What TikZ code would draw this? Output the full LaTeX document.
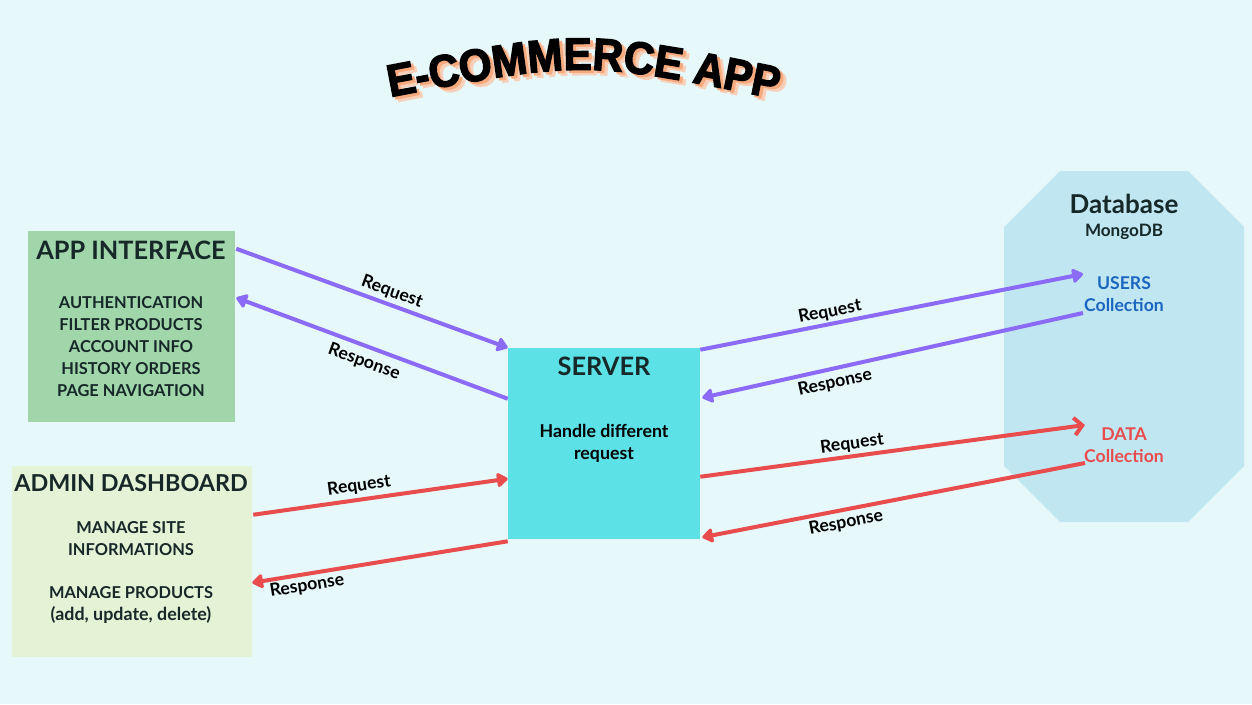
\documentclass[tikz,border=0pt]{standalone}
\usepackage{fontspec}
\setmainfont{Lato}
\newfontfamily\titlefont[FakeStretch=0.93,FakeBold=3]{Liberation Sans}
\usetikzlibrary{arrows.meta,calc,decorations.text}
\definecolor{bg}{RGB}{230,248,250}
\definecolor{appgreen}{RGB}{161,214,170}
\definecolor{admingreen}{RGB}{228,242,214}
\definecolor{servercyan}{RGB}{92,225,230}
\definecolor{dbblue}{RGB}{192,230,242}
\definecolor{purp}{RGB}{139,106,245}
\definecolor{redd}{RGB}{232,76,76}
\definecolor{txtdark}{RGB}{22,40,40}
\definecolor{usersblue}{RGB}{27,102,190}
\definecolor{peachA}{RGB}{246,170,125}
\definecolor{peachB}{RGB}{248,208,185}
\begin{document}
\begin{tikzpicture}[x=0.75pt,y=-0.75pt,
  box/.style={inner sep=0pt, draw=none},
  boxtitle/.style={text=txtdark, font=\fontsize{19}{22}\selectfont\bfseries, inner sep=1pt},
  items/.style={text=txtdark, align=center, font=\fontsize{12.3}{16.5}\selectfont\bfseries, inner sep=1pt},
  lbl/.style={text=black, font=\fontsize{13.2}{15}\selectfont\bfseries, inner sep=1pt},
  conn/.style={line width=3pt},
  filltip/.style={-{Triangle[length=9pt,width=12pt,round]}},
  opentip/.style={-{Straight Barb[length=6pt,width=13pt,line width=3pt]}}
]
\fill[bg] (0,0) rectangle (1252,704);
\useasboundingbox (0,0) rectangle (1252,704);

% title
\coordinate (tA) at (385,98);
\coordinate (tC) at (583,60);
\coordinate (tB) at (782,100);
\path[decorate,decoration={text along path,text align=center,
  text={|\titlefont\bfseries\fontsize{34}{36}\selectfont\color{peachB}|E-COMMERCE APP}}]
  ($(tA)+(6,5)$) .. controls ($(tC)+(6,5)$) .. ($(tB)+(6,5)$);
\path[decorate,decoration={text along path,text align=center,
  text={|\titlefont\bfseries\fontsize{34}{36}\selectfont\color{peachA}|E-COMMERCE APP}}]
  ($(tA)+(3,2.5)$) .. controls ($(tC)+(3,2.5)$) .. ($(tB)+(3,2.5)$);
\path[decorate,decoration={text along path,text align=center,
  text={|\titlefont\bfseries\fontsize{34}{36}\selectfont\color{black}|E-COMMERCE APP}}]
  (tA) .. controls (tC) .. (tB);

% boxes
\node[box, fill=appgreen, minimum width=155.25pt, minimum height=143.25pt] (app) at (131.5,326.5) {};
\node[box, fill=admingreen, minimum width=180pt, minimum height=143.25pt] (admin) at (132,561.5) {};
\node[box, fill=servercyan, minimum width=144pt, minimum height=143.25pt] (server) at (604,443.5) {};
\fill[dbblue] (1060,171) -- (1188,171) -- (1244,227) -- (1244,466) -- (1188,522)
  -- (1060,522) -- (1004,466) -- (1004,227) -- cycle;

% texts
\node[boxtitle] (apptitle) at (131,250) {APP INTERFACE};
\node[items] (appitems) at (131,347) {AUTHENTICATION\\FILTER PRODUCTS\\ACCOUNT INFO\\HISTORY ORDERS\\PAGE NAVIGATION};
\node[boxtitle, font=\fontsize{17.5}{22}\selectfont\bfseries] (admintitle) at (131,483) {ADMIN DASHBOARD};
\node[items] (adminsite) at (131,539) {MANAGE SITE\\INFORMATIONS};
\node[items] (adminprod) at (131,605) {MANAGE PRODUCTS\\{\fontsize{13.4}{16.5}\selectfont (add, update, delete)}};
\node[boxtitle] (servertitle) at (604,366) {SERVER};
\node[items, text=black, font=\fontsize{13.3}{16.5}\selectfont\bfseries] (servertext) at (604,443) {Handle different\\request};
\node[boxtitle, font=\fontsize{19.5}{22}\selectfont\bfseries] (dbtitle) at (1124,204) {Database};
\node[items, font=\fontsize{12.8}{16.5}\selectfont\bfseries] (dbsub) at (1124,232) {MongoDB};
\node[items, text=usersblue, font=\fontsize{13.2}{16.5}\selectfont\bfseries] (users) at (1124,294) {USERS\\Collection};
\node[items, text=redd, font=\fontsize{13.2}{16.5}\selectfont\bfseries] (data) at (1124,445) {DATA\\Collection};

% connectors
\draw[conn, purp, filltip] ($(app.north east)+(1,18)$) -- (server.north west);
\draw[conn, purp, filltip] ($(server.north west)+(0,51)$) -- ($(app.north east)+(1,67)$);
\draw[conn, purp, filltip] ($(server.north east)+(0,2)$) -- ($(users.center)+(-41,-20)$);
\draw[conn, purp, filltip] ($(users.center)+(-41,19)$) -- ($(server.north east)+(2,50)$);
\draw[conn, redd, opentip] ($(server.north east)+(0,129)$) -- ($(data.center)+(-39,-20)$);
\draw[conn, redd, filltip] ($(data.center)+(-39,18)$) -- ($(server.south east)+(2,-2)$);
\draw[conn, redd, filltip] ($(admin.north east)+(1,49)$) -- ($(server.north west)+(0,131)$);
\draw[conn, redd, filltip] ($(server.south west)+(0,2)$) -- ($(admin.north east)+(0,117)$);

% labels
\node[lbl, rotate=-20] (l1) at (392,292) {Request};
\node[lbl, rotate=-20] (l2) at (364,362) {Response};
\node[lbl, rotate=11] (l3) at (830,312) {Request};
\node[lbl, rotate=12.5] (l4) at (835,383) {Response};
\node[lbl, rotate=7.7] (l5) at (852,444) {Request};
\node[lbl, rotate=11] (l6) at (846,523) {Response};
\node[lbl, rotate=8] (l7) at (359,486) {Request};
\node[lbl, rotate=9.3] (l8) at (307,586) {Response};
\end{tikzpicture}
\end{document}
